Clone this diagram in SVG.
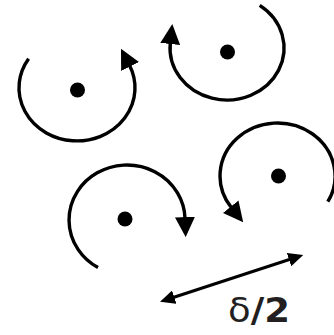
<svg xmlns="http://www.w3.org/2000/svg" width="334" height="335" viewBox="0 0 334 335">
<style>
.arc{fill:none;stroke:#000;stroke-width:3.4;marker-end:url(#head)}
.dot{fill:#000}
.dim{fill:none;stroke:#000;stroke-width:3}
.lbl{font-family:"DejaVu Sans",sans-serif;font-size:34px;fill:#231f20}
</style>
<defs>
<marker id="head" markerUnits="userSpaceOnUse" markerWidth="20" markerHeight="20" viewBox="0 0 20 20" refX="1" refY="10" orient="auto"><path d="M0,0 L20,10 L0,20 z" fill="#000"/></marker>
<marker id="dimhead" markerUnits="userSpaceOnUse" markerWidth="15" markerHeight="14" viewBox="0 0 15 14" refX="2" refY="7" orient="auto-start-reverse"><path d="M0,0 L15,7 L0,14 z" fill="#000"/></marker>
</defs>
<g id="vortex-a"><path class="arc" d="M28.6,58.7 A58,53 0 1,0 129.6,65.6"/><circle class="dot" cx="77.5" cy="90" r="7.5"/></g>
<g id="vortex-b"><path class="arc" d="M259.7,5.4 A57,52 0 1,1 170.3,43"/><circle class="dot" cx="227.5" cy="52" r="7.5"/></g>
<g id="vortex-c"><path class="arc" d="M98,267.6 A58,55 0 1,1 185,218.1"/><circle class="dot" cx="125" cy="219" r="7.5"/></g>
<g id="vortex-d"><path class="arc" d="M327.8,201.7 A57.5,53 0 1,0 231.3,207.5"/><circle class="dot" cx="278.5" cy="176" r="7.5"/></g>
<g id="connectors"><line class="dim" x1="172.4" y1="297.7" x2="290.9" y2="259" marker-start="url(#dimhead)" marker-end="url(#dimhead)"/></g>
<g id="label"><text class="lbl" x="228" y="321.5" textLength="62" lengthAdjust="spacingAndGlyphs">δ<tspan font-weight="bold">/2</tspan></text></g>
</svg>
